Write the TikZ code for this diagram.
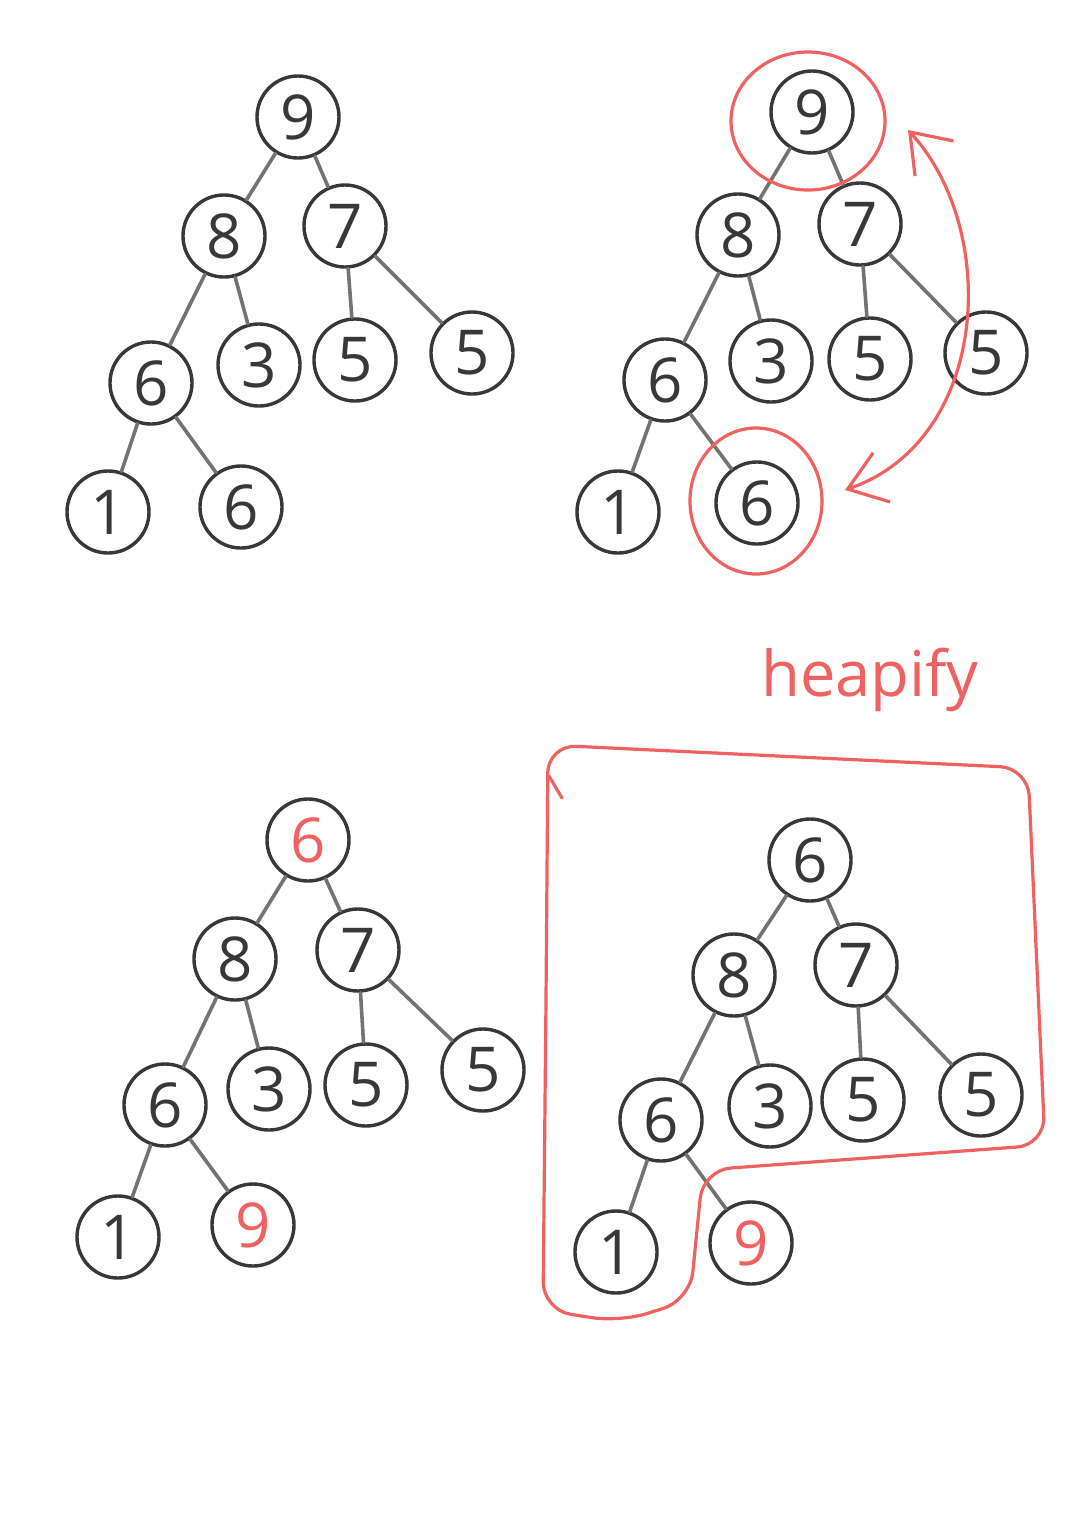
\documentclass[tikz,border=0pt]{standalone}
\usepackage{fontspec}
\setmainfont{Open Sans}
\usetikzlibrary{arrows.meta}
\definecolor{pencil}{rgb}{0.22,0.22,0.22}
\definecolor{pencillight}{rgb}{0.45,0.45,0.45}
\definecolor{redpen}{rgb}{0.94,0.38,0.38}

\tikzset{
  heapnode/.style={circle,draw=pencil,line width=0.085cm,minimum size=2.05cm,
    inner sep=0pt,text=pencil,font=\fontsize{44}{44}\selectfont},
  heapedge/.style={draw=pencillight,line width=0.09cm,line cap=round},
  redmark/.style={draw=redpen,line width=0.08cm,line cap=round,line join=round},
}

\begin{document}
\begin{tikzpicture}[x=0.025cm,y=-0.025cm]
\useasboundingbox[fill=white] (0,0) rectangle (1080,1527);

% Heap before swapping (top left)
\node[heapnode] (a1) at (298,117) {9};
\node[heapnode] (a2) at (224,236) {8};
\node[heapnode] (a3) at (345,226) {7};
\node[heapnode] (a4) at (151,383) {6};
\node[heapnode] (a5) at (259,365) {3};
\node[heapnode] (a6) at (355,360) {5};
\node[heapnode] (a7) at (472,353) {5};
\node[heapnode] (a8) at (108,512) {1};
\node[heapnode] (a9) at (241,507) {6};
\draw[heapedge] (a1) -- (a2) (a1) -- (a3) (a2) -- (a4) (a2) -- (a5)
  (a3) -- (a6) (a3) -- (a7) (a4) -- (a8) (a4) -- (a9);

% Root and last leaf marked for the swap (top right)
\node[heapnode] (b1) at (812,112) {9};
\node[heapnode] (b2) at (738,235) {8};
\node[heapnode] (b3) at (860,224) {7};
\node[heapnode] (b4) at (665,380) {6};
\node[heapnode] (b5) at (771,361) {3};
\node[heapnode] (b6) at (870,359) {5};
\node[heapnode] (b7) at (986,353) {5};
\node[heapnode] (b8) at (618,512) {1};
\node[heapnode] (b9) at (757,503) {6};
\draw[heapedge] (b1) -- (b2) (b1) -- (b3) (b2) -- (b4) (b2) -- (b5)
  (b3) -- (b6) (b3) -- (b7) (b4) -- (b8) (b4) -- (b9);
\draw[redmark] (808,121) ellipse [x radius=77,y radius=69];
\draw[redmark] (756,501) ellipse [x radius=66,y radius=73];
\coordinate (swaptop) at (908,130);
\coordinate (swapbot) at (845,490);
\draw[redmark,{Straight Barb[length=0.9cm,width=1.3cm]}-{Straight Barb[length=0.9cm,width=1.3cm]}]
  (swaptop) .. controls (1000,230) and (990,440) .. (swapbot);

% After the swap
\node[heapnode,text=redpen] (c1) at (308,840) {6};
\node[heapnode] (c2) at (235,959) {8};
\node[heapnode] (c3) at (358,950) {7};
\node[heapnode] (c4) at (165,1105) {6};
\node[heapnode] (c5) at (269,1089) {3};
\node[heapnode] (c6) at (366,1085) {5};
\node[heapnode] (c7) at (483,1070) {5};
\node[heapnode] (c8) at (118,1237) {1};
\node[heapnode,text=redpen] (c9) at (253,1225) {9};
\draw[heapedge] (c1) -- (c2) (c1) -- (c3) (c2) -- (c4) (c2) -- (c5)
  (c3) -- (c6) (c3) -- (c7) (c4) -- (c8) (c4) -- (c9);

% Heapify on the rest of the tree
\node[text=redpen,font=\fontsize{45}{45}\selectfont] (heapify) at (870,680) {heapify};
\node[heapnode] (d1) at (810,860) {6};
\node[heapnode] (d2) at (734,975) {8};
\node[heapnode] (d3) at (856,965) {7};
\node[heapnode] (d4) at (661,1120) {6};
\node[heapnode] (d5) at (770,1106) {3};
\node[heapnode] (d6) at (863,1100) {5};
\node[heapnode] (d7) at (981,1095) {5};
\node[heapnode] (d8) at (616,1252) {1};
\node[heapnode,text=redpen] (d9) at (751,1243) {9};
\draw[heapedge] (d1) -- (d2) (d1) -- (d3) (d2) -- (d4) (d2) -- (d5)
  (d3) -- (d6) (d3) -- (d7) (d4) -- (d8) (d4) -- (d9);
\draw[redmark,rounded corners=0.7cm] (546,1000) -- (548,745) -- (1028,768) -- (1045,1145)
  -- (703,1170) -- (690,1300) -- (620,1322) -- (543,1310) -- cycle;
\draw[redmark] (549,776) -- (562,798);

\end{tikzpicture}
\end{document}
